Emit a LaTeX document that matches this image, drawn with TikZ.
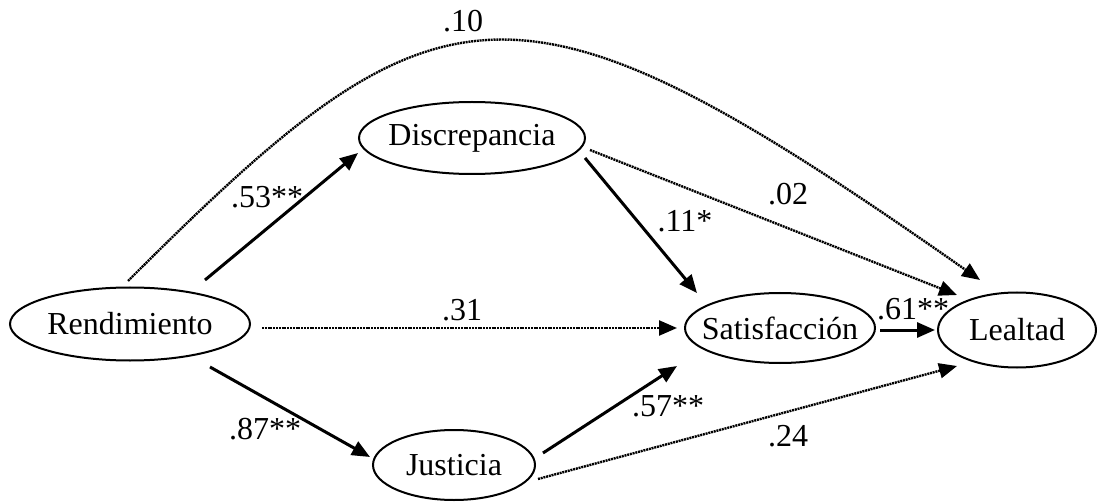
\documentclass[tikz,border=0pt]{standalone}
\usepackage{fontspec}
\setmainfont{Liberation Serif}
\usetikzlibrary{shapes.geometric,arrows.meta,calc}
\begin{document}
\begin{tikzpicture}[x=1pt,y=-1pt,
  every node/.style={font=\fontsize{32}{37}\selectfont},
  var/.style={draw,ellipse,line width=2pt,inner sep=0pt},
  sig/.style={line width=3pt,-{Triangle[length=18pt,width=15pt]}},
  nsig/.style={line width=2.4pt,dash pattern=on 2pt off 0.8pt,-{Triangle[length=18pt,width=15pt]}},
  lab/.style={inner sep=0pt}]
\useasboundingbox (0,0) rectangle (1099,502);
\node[var,minimum width=240pt,minimum height=73pt] (rend) at (130,324) {\makebox[0pt]{Rendimiento}};
\node[var,minimum width=226pt,minimum height=72pt] (disc) at (472,138) {\makebox[0pt]{Discrepancia}};
\node[var,minimum width=190pt,minimum height=70pt] (sat) at (780,328) {\makebox[0pt]{Satisfacción}};
\node[var,minimum width=158pt,minimum height=75pt] (leal) at (1017,330) {\makebox[0pt]{Lealtad}};
\node[var,minimum width=162pt,minimum height=70pt] (just) at (454,465) {\makebox[0pt]{Justicia}};
% connectors
\draw[nsig] ($(rend)+(-2,-43)$) .. controls (441,-32) and (515,-46) .. ($(leal)+(-37,-50)$);
\draw[sig] ($(rend)+(75,-44)$) -- ($(disc)+(-114,15)$);
\draw[nsig] ($(rend)+(132,4)$) -- ($(sat)+(-103,0)$);
\draw[sig] ($(rend)+(80,43)$) -- ($(just)+(-84,-8)$);
\draw[sig] ($(disc)+(113,20)$) -- ($(sat)+(-83,-35)$);
\draw[nsig] ($(disc)+(118,12)$) -- ($(leal)+(-60,-35)$);
\draw[sig] ($(sat)+(100,2)$) -- ($(leal)+(-82,0)$);
\draw[sig] ($(just)+(89,-12)$) -- ($(sat)+(-103,38)$);
\draw[nsig] ($(just)+(84,14)$) -- ($(leal)+(-60,36)$);
% labels
\node[lab] (l10) at (463,21) {.10};
\node[lab] (l53) at (267,197) {.53**};
\node[lab] (l02) at (788,194) {.02};
\node[lab] (l11) at (685,221) {.11*};
\node[lab] (l31) at (462,310) {.31};
\node[lab] (l61) at (913,309) {.61**};
\node[lab] (l87) at (265,429) {.87**};
\node[lab] (l57) at (668,406) {.57**};
\node[lab] (l24) at (788,436) {.24};
\end{tikzpicture}
\end{document}
